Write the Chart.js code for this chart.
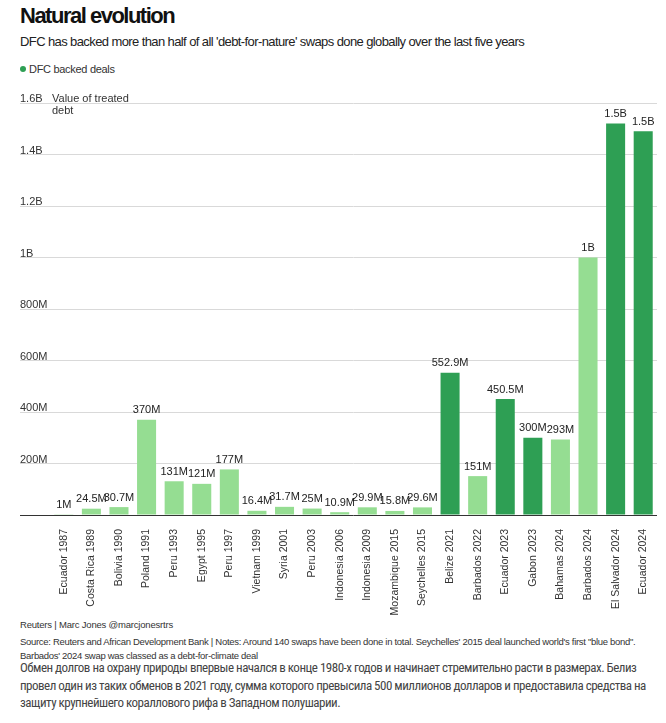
<!DOCTYPE html>
<html>
<head>
<meta charset="utf-8">
<script src="https://cdn.jsdelivr.net/npm/chart.js@4.4.1/dist/chart.umd.min.js"></script>
<style>
  body { margin: 0; background: #fff; font-family: "Liberation Sans", Arial, sans-serif; color: #222; }
  .wrap { position: relative; width: 666px; height: 723px; overflow: hidden; }
  .title { position: absolute; left: 20px; top: 3px; font-size: 22px; font-weight: bold; letter-spacing: -1.5px; color: #111; }
  .sub { position: absolute; left: 20px; top: 34px; font-size: 13px; letter-spacing: -0.6px; color: #222; }
  .legend { position: absolute; left: 20px; top: 63px; font-size: 11px; letter-spacing: -0.3px; color: #333; }
  .legend .dot { display: inline-block; width: 6px; height: 6px; border-radius: 50%; background: #2e9f54; margin-right: 3px; vertical-align: 1px; }
  .chartbox { position: absolute; left: 0; top: 85px; width: 666px; height: 532px; }
  .credit { position: absolute; left: 20px; top: 619px; font-size: 9.5px; color: #333; letter-spacing: -0.2px; }
  .source { position: absolute; left: 20px; top: 635px; font-size: 9.5px; line-height: 14px; color: #333; letter-spacing: -0.3px; width: 640px; }
  .ru { position: absolute; left: 20px; top: 659px; font-size: 13px; line-height: 17.5px; letter-spacing: -0.5px; color: #444; font-family: "Liberation Sans Narrow", "Roboto Condensed", Roboto, sans-serif; width: 640px; }
</style>
</head>
<body>
<div class="wrap">
  <div class="title">Natural evolution</div>
  <div class="sub">DFC has backed more than half of all 'debt-for-nature' swaps done globally over the last five years</div>
  <div class="legend"><span class="dot"></span>DFC backed deals</div>
  <div class="chartbox"><canvas id="chart"></canvas></div>
  <div class="credit">Reuters | Marc Jones @marcjonesrtrs</div>
  <div class="source">Source: Reuters and African Development Bank | Notes: Around 140 swaps have been done in total. Seychelles' 2015 deal launched world's first "blue bond". Barbados' 2024 swap was classed as a debt-for-climate deal</div>
  <div class="ru">Обмен долгов на охрану природы впервые начался в конце 1980-х годов и начинает стремительно расти в размерах. Белиз провел один из таких обменов в 2021 году, сумма которого превысила 500 миллионов долларов и предоставила средства на защиту крупнейшего кораллового рифа в Западном полушарии.</div>
</div>
<script>
// deals, value of treated debt (USD), and whether DFC backed them
var deals = ["Ecuador 1987","Costa Rica 1989","Bolivia 1990","Poland 1991","Peru 1993","Egypt 1995","Peru 1997",
  "Vietnam 1999","Syria 2001","Peru 2003","Indonesia 2006","Indonesia 2009","Mozambique 2015","Seychelles 2015",
  "Belize 2021","Barbados 2022","Ecuador 2023","Gabon 2023","Bahamas 2024","Barbados 2024","El Salvador 2024","Ecuador 2024"];
var values = [1e6, 24.5e6, 30.7e6, 370e6, 131e6, 121e6, 177e6,
  16.4e6, 31.7e6, 25e6, 10.9e6, 29.9e6, 15.8e6, 29.6e6,
  552.9e6, 151e6, 450.5e6, 300e6, 293e6, 1e9, 1.52e9, 1.49e9];
var dfcBacked = [false,false,false,false,false,false,false,
  false,false,false,false,false,false,false,
  true,false,true,true,false,false,true,true];
var yTicks = [0, 2e8, 4e8, 6e8, 8e8, 1e9, 1.2e9, 1.4e9, 1.6e9];

var darkGreen = '#2e9f54';
var lightGreen = '#95dd92';

function fmt(v){
  if (v >= 1e9) return (+(v / 1e9).toFixed(1)) + 'B';
  return (+(v / 1e6).toFixed(1)) + 'M';
}

// value labels above each bar
var barLabels = {
  id: 'barLabels',
  afterDatasetsDraw: function(chart){
    var ctx = chart.ctx;
    var meta = chart.getDatasetMeta(0);
    ctx.save();
    ctx.font = '11px "Liberation Sans", Arial, sans-serif';
    ctx.fillStyle = '#222';
    ctx.textAlign = 'center';
    ctx.textBaseline = 'bottom';
    meta.data.forEach(function(bar, i){
      ctx.fillText(fmt(values[i]), bar.x, bar.y - 4);
    });
    ctx.restore();
  }
};

// axis title next to the top tick
var axisNote = {
  id: 'axisNote',
  afterDraw: function(chart){
    var ctx = chart.ctx;
    var y = chart.scales.y.getPixelForValue(1.6e9);
    ctx.save();
    ctx.font = '11px "Liberation Sans", Arial, sans-serif';
    ctx.fillStyle = '#333';
    ctx.textBaseline = 'middle';
    ctx.fillText('Value of treated', chart.chartArea.left + 2, y - 4);
    ctx.fillText('debt', chart.chartArea.left + 2, y + 8);
    ctx.restore();
  }
};

new Chart(document.getElementById('chart'), {
  type: 'bar',
  data: {
    labels: deals,
    datasets: [{
      label: 'DFC backed deals',
      data: values,
      backgroundColor: dfcBacked.map(function(d){ return d ? darkGreen : lightGreen; }),
      barPercentage: 0.69,
      categoryPercentage: 1
    }]
  },
  options: {
    responsive: true,
    maintainAspectRatio: false,
    animation: false,
    layout: { padding: { left: 20, right: 9, top: 18, bottom: 0 } },
    plugins: { legend: { display: false }, tooltip: { enabled: false } },
    scales: {
      x: {
        grid: { display: false },
        border: { display: false },
        ticks: {
          minRotation: 90, maxRotation: 90, autoSkip: false, padding: 6,
          color: '#333',
          font: { family: '"Liberation Sans", Arial, sans-serif', size: 10.5 }
        },
        afterFit: function(s){ s.height = 102; }
      },
      y: {
        min: 0, max: 1.6e9,
        afterBuildTicks: function(s){ s.ticks = yTicks.map(function(v){ return { value: v }; }); },
        border: { display: false },
        grid: {
          drawTicks: true, tickLength: 30,
          color: function(c){ return c.tick && c.tick.value === 0 ? '#333' : '#d9d9d9'; },
          tickColor: function(c){ return c.tick && c.tick.value === 0 ? '#333' : '#d9d9d9'; }
        },
        ticks: {
          crossAlign: 'far', padding: 0, labelOffset: -4,
          color: '#333',
          font: { family: '"Liberation Sans", Arial, sans-serif', size: 11 },
          callback: function(v){ return v === 0 ? '' : fmt(v); }
        },
        afterFit: function(s){ s.width = 30; }
      }
    }
  },
  plugins: [barLabels, axisNote]
});
</script>
</body>
</html>
